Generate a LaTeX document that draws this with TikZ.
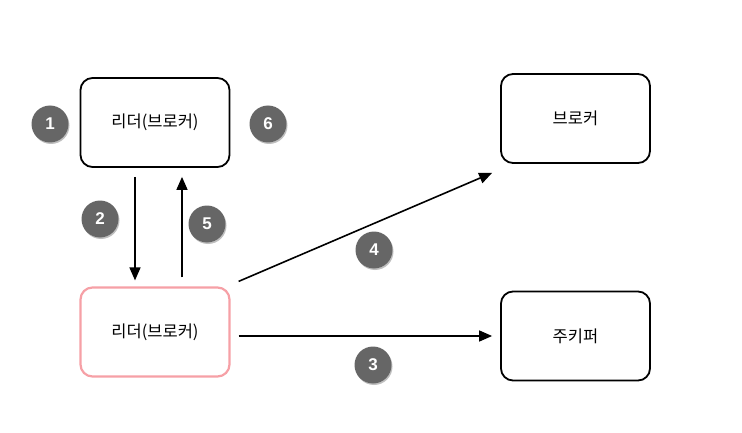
\documentclass[tikz,border=0pt]{standalone}
\usepackage{fontspec}
\setmainfont{Liberation Sans}
\newfontfamily\krfont{Noto Sans CJK KR}
\usepackage{tikz}
\usetikzlibrary{positioning,arrows.meta,calc,shadows}

\begin{document}
\begin{tikzpicture}[x=1pt,y=1pt,
  boxnode/.style={draw=black,line width=1.8pt,rounded corners=12pt,fill=white,
    minimum width=149pt,minimum height=89pt,inner sep=0pt,font=\krfont\fontsize{16.5}{20}\selectfont},
  stepnum/.style={circle,fill=numColor,text=white,minimum size=37pt,inner sep=0pt,
    font=\bfseries\fontsize{17}{20}\selectfont,
    drop shadow={shadow xshift=1pt,shadow yshift=-1.5pt,fill=black!25,opacity=1}},
  flow/.style={draw=black,line width=1.6pt,-{Triangle[length=13pt,width=11pt]}}]
\definecolor{fillColor}{RGB}{255,255,255}
\definecolor{numColor}{RGB}{102,102,102}
\definecolor{leaderColor}{RGB}{246,160,166}
\path[use as bounding box,fill=fillColor] (0,0) rectangle (742,432);

% boxes
\node[boxnode] (ldrtop) at (155,309.5) {리더(브로커)};
\node[boxnode,draw=leaderColor,line width=2.2pt] (ldrbot) at (155,100) {리더(브로커)};
\node[boxnode] (broker) at (575.5,313.5) {브로커};
\node[boxnode] (zk) at (575.5,96) {주키퍼};

% connectors
\draw[flow] ([xshift=-20pt,yshift=-9pt]ldrtop.south) -- ([xshift=-20pt,yshift=6pt]ldrbot.north);
\draw[flow] ([xshift=27pt,yshift=9pt]ldrbot.north) -- ([xshift=27pt,yshift=-9pt]ldrtop.south);
\draw[flow] ([xshift=8pt,yshift=5pt]ldrbot.north east) -- ([xshift=-8pt,yshift=-9pt]broker.south west);
\draw[flow] ([xshift=8pt,yshift=-4pt]ldrbot.east) -- ([xshift=-8pt]zk.west);

% step numbers
\node[stepnum] (n1) at (50,308) {1};
\node[stepnum] (n2) at (100,213) {2};
\node[stepnum] (n3) at (373,67) {3};
\node[stepnum] (n4) at (374,182) {4};
\node[stepnum] (n5) at (207,208) {5};
\node[stepnum] (n6) at (268,308) {6};
\end{tikzpicture}
\end{document}
